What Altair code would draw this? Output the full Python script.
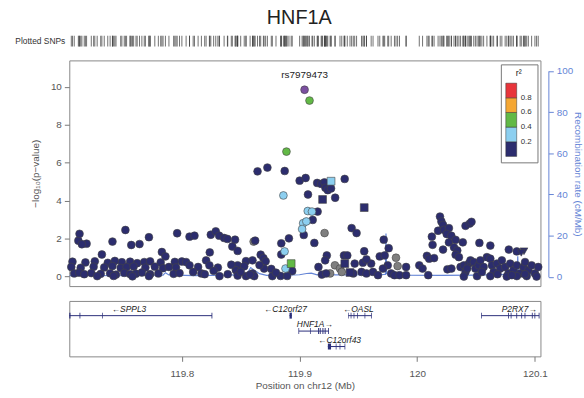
import altair as alt
import pandas as pd

# ---------------- SNP data (position Mb, -log10 p) ----------------
navy_pos = [
    119.712, 119.713, 119.719, 119.715, 119.732, 119.741, 119.752, 119.757, 119.764, 119.772, 119.783, 119.786, 119.796,
    119.707, 119.718, 119.726, 119.737, 119.743, 119.749, 119.756, 119.762, 119.768, 119.773, 119.782, 119.794, 119.800,
    119.706, 119.714, 119.725, 119.734, 119.741, 119.748, 119.753, 119.759, 119.769, 119.777, 119.784, 119.789, 119.795,
    119.7085, 119.7127, 119.717, 119.723, 119.731, 119.739, 119.744, 119.751, 119.756, 119.761, 119.766, 119.773, 119.780, 119.793, 119.798,
    119.728, 119.742, 119.758, 119.772,
    119.8065, 119.8107, 119.8246, 119.8288, 119.8317, 119.8359, 119.8387, 119.8452, 119.8429, 119.8474, 119.8623, 119.8237,
    119.867, 119.8693, 119.8712, 119.8643, 119.8727, 119.8874, 119.8845, 119.891, 119.8845, 119.8938, 119.8839, 119.8895,
    119.8206, 119.8234, 119.8306, 119.8545, 119.8601, 119.8474, 119.853, 119.8699, 119.846, 119.8036, 119.8065, 119.8138,
    119.8096, 119.8166, 119.8194, 119.8320, 119.8474, 119.8545, 119.8601, 119.8615, 119.8769,
    119.8270, 119.8390, 119.8420, 119.8500, 119.8580, 119.8660, 119.8760, 119.8800,
    119.9001, 119.9052, 119.915, 119.9184, 119.9212, 119.922, 119.924, 119.9268, 119.9384, 119.9072, 119.9303, 119.9154,
    119.9112, 119.9036, 119.9443, 119.9485, 119.9126, 119.9716, 119.9758, 119.955, 119.9682, 119.9724, 119.9232, 119.9218,
    119.9378, 119.9406, 119.9161, 119.9469, 119.9539, 119.9609, 119.975, 119.9906, 119.9457, 119.919, 119.9226, 119.9527,
    119.9569, 119.9625, 119.9667, 119.9709, 119.9779, 119.9807, 119.985, 119.9906, 119.9569,
    120.0194, 120.0206, 120.0220, 120.0178, 120.0228, 120.0270, 120.0251, 120.0290, 120.0125, 120.0131, 120.0220, 120.0270,
    120.0327, 120.0313, 120.0341, 120.0388, 120.0411, 120.0447, 120.0462, 120.0529, 120.0622, 120.0779, 120.0847, 120.0083,
    120.0102, 120.0144, 120.0327, 120.0355, 120.0018, 120.0046, 120.0094, 120.0257, 120.0291,
    120.0369, 120.0397, 120.0411, 120.0439, 120.0453, 120.0481, 120.0495, 120.0523, 120.0537, 120.0565, 120.0593, 120.0622,
    120.0636, 120.0650, 120.0678, 120.0706, 120.0720, 120.0748, 120.0776, 120.0791, 120.0818, 120.0847, 120.0875, 120.0903,
    120.0917, 120.0945, 120.0973, 120.1001, 120.1029, 120.0397, 120.0509, 120.0622, 120.0762, 120.0847, 120.0931, 120.1015,
    120.0425, 120.0550, 120.0683, 120.0805, 120.0917,
]
navy_logp = [
    1.89, 2.25, 1.73, 1.70, 1.16, 1.84, 2.45, 1.66, 1.71, 2.07, 1.29, 1.06, 2.28,
    0.78, 0.74, 0.80, 0.72, 0.82, 0.75, 0.78, 0.70, 0.76, 0.80, 0.74, 0.77, 0.79,
    0.50, 0.46, 0.52, 0.48, 0.55, 0.45, 0.50, 0.53, 0.47, 0.52, 0.44, 0.50, 0.48,
    0.16, 0.20, 0.12, 0.18, 0.14, 0.17, 0.10, 0.19, 0.13, 0.15, 0.21, 0.12, 0.16, 0.14, 0.18,
    0.02, 0.03, 0.01, 0.02,
    2.10, 2.15, 2.20, 2.38, 2.15, 2.03, 1.98, 1.94, 1.58, 1.35, 1.89, 1.27,
    1.15, 0.97, 0.80, 5.54, 5.74, 5.56, 1.75, 2.01, 1.16, 0.29, 0.03, 0.03,
    0.85, 0.59, 0.47, 0.81, 0.85, 0.59, 0.54, 0.42, 0.33, 0.76, 0.59, 0.50,
    0.24, 0.16, 0.12, 0.02, 0.05, 0.02, 0.16, 0.02, 0.02,
    0.30, 0.12, 0.62, 0.25, 0.10, 0.60, 0.40, 0.20,
    5.05, 5.19, 4.93, 4.88, 4.96, 4.67, 4.55, 4.64, 5.14, 4.32, 4.15, 3.42,
    2.98, 2.19, 2.55, 2.29, 1.77, 1.94, 1.49, 1.33, 1.06, 1.11, 1.11, 0.85,
    1.11, 1.11, 0.50, 0.68, 0.73, 0.68, 0.59, 0.50, 0.16, 0.10, 0.16, 0.24,
    0.16, 0.24, 0.07, 0.42, 0.16, 0.07, 0.07, 0.07, 0.90,
    3.16, 2.90, 2.72, 2.41, 2.46, 2.55, 2.24, 2.15, 2.10, 1.67, 1.42, 1.80,
    1.93, 1.54, 1.37, 1.80, 2.67, 2.79, 2.88, 1.77, 1.63, 1.42, 1.32, 1.09,
    0.94, 0.97, 1.15, 1.02, 0.59, 0.42, 0.07, 0.38, 0.42,
    0.50, 0.59, 0.24, 0.68, 0.85, 0.76, 0.42, 0.59, 0.85, 0.50, 1.02, 0.94,
    0.59, 0.24, 0.68, 0.42, 0.85, 0.50, 0.16, 0.68, 0.33, 0.59, 0.16, 0.50,
    0.76, 0.33, 0.59, 0.16, 0.50, 0.00, 0.02, 0.02, 0.00, 0.02, 0.02, 0.00,
    0.42, 0.24, 0.12, 0.07, 0.12,
]
navy_sq_pos = [119.9196, 119.955, 119.9385, 119.9429]
navy_sq_logp = [4.06, 3.63, 0.68, 0.21]
navy_tri_pos = [120.0908, 120.0885]
navy_tri_logp = [1.33, 1.25]

lblue_pos = [119.8863, 119.8873, 119.8881, 119.9031, 119.9022, 119.9058, 119.907, 119.9106]
lblue_logp = [4.27, 1.32, 0.42, 2.81, 2.50, 2.90, 3.45, 3.42]
lblue_sq_pos = [119.9268]
lblue_sq_logp = [5.02]

green_pos = [119.8889, 119.9085]
green_logp = [6.58, 9.27]
green_sq_pos = [119.8929]
green_sq_logp = [0.68]

gray_pos = [119.861, 119.846, 119.9213, 119.9301, 119.9344, 119.9359, 119.926, 119.9834, 119.982]
gray_logp = [1.84, 0.38, 2.29, 0.59, 0.42, 0.24, 0.16, 0.55, 0.99]

index_snp = ["rs7979473"]
index_pos = [119.9043]
index_logp = [9.84]

# r2 bin midpoint for each colour class
r2_navy, r2_lblue, r2_green = 0.1, 0.3, 0.5

strip_label = ["Plotted SNPs"]

# ---------------- recombination rate ----------------
recomb_pos = [119.7043, 119.72, 119.74, 119.765, 119.784, 119.786, 119.789, 119.81, 119.84, 119.855, 119.8585,
              119.862, 119.866, 119.872, 119.89, 119.9, 119.906, 119.91, 119.915, 119.925, 119.93, 119.96,
              119.973, 119.9735, 119.974, 119.99, 120.02, 120.05, 120.085, 120.0855, 120.086, 120.1048]
recomb_rate = [0.6, 0.8, 0.5, 0.7, 0.8, 2.0, 0.9, 0.6, 0.8, 1.2, 4.5,
               3.0, 1.5, 0.7, 0.8, 1.0, 1.6, 1.8, 0.9, 1.5, 0.9, 1.0,
               1.2, 21.0, 1.5, 0.8, 0.7, 0.8, 1.2, 10.0, 1.5, 1.0]

# ---------------- genes ----------------
gene_name = ["SPPL3", "C12orf27", "OASL", "P2RX7", "HNF1A", "C12orf43"]
gene_start = [119.7043, 119.8915, 119.9415, 120.0546, 119.8994, 119.9241]
gene_end = [119.8256, 119.8935, 119.9612, 120.1037, 119.9247, 119.9386]
gene_row = [1, 1, 1, 1, 2, 3]
gene_strand = ["-", "-", "-", "+", "+", "-"]
gene_label_pos = [119.755, 119.888, 119.950, 120.0868, 119.913, 119.934]

exon_gene = ["SPPL3"] * 4 + ["C12orf27"] + ["OASL"] * 6 + ["P2RX7"] * 9 + ["HNF1A"] * 7 + ["C12orf43"] * 4
exon_start = [119.7043, 119.7130, 119.7321, 119.8252,
              119.8915,
              119.9413, 119.9435, 119.9460, 119.9491, 119.9553, 119.9608,
              120.0543, 120.0773, 120.0795, 120.0843, 120.0885, 120.0913, 120.0975, 120.0997, 120.1033,
              119.8991, 119.9089, 119.9158, 119.9172, 119.9195, 119.9214, 119.9243,
              119.9241, 119.9308, 119.9341, 119.9383]
exon_end = [119.7053, 119.7137, 119.7327, 119.8259,
            119.8935,
            119.9418, 119.9441, 119.9466, 119.9497, 119.9559, 119.9614,
            120.0549, 120.0780, 120.0802, 120.0850, 120.0892, 120.0920, 120.0982, 120.1004, 120.1040,
            119.8997, 119.9095, 119.9166, 119.9180, 119.9203, 119.9222, 119.9250,
            119.9268, 119.9314, 119.9347, 119.9389]

# ---------------- build tables ----------------
def group(pos, logp, r2, shape):
    return pd.DataFrame({"pos": pos, "logp": logp, "r2": [r2] * len(pos), "shape": [shape] * len(pos)})

ld = pd.concat([
    group(navy_pos, navy_logp, r2_navy, "circle"),
    group(navy_sq_pos, navy_sq_logp, r2_navy, "square"),
    group(navy_tri_pos, navy_tri_logp, r2_navy, "triangle-down"),
    group(lblue_pos, lblue_logp, r2_lblue, "circle"),
    group(lblue_sq_pos, lblue_sq_logp, r2_lblue, "square"),
    group(green_pos, green_logp, r2_green, "circle"),
    group(green_sq_pos, green_sq_logp, r2_green, "square"),
], ignore_index=True)
ld["order"] = ld["r2"]
gray = pd.DataFrame({"pos": gray_pos, "logp": gray_logp})
idx = pd.DataFrame({"pos": index_pos, "logp": index_logp, "name": index_snp})
all_pos = pd.DataFrame({"pos": list(ld["pos"]) + gray_pos + index_pos})
rec = pd.DataFrame({"pos": recomb_pos, "rate": recomb_rate})
genes = pd.DataFrame({"name": gene_name, "start": gene_start, "end": gene_end, "row": gene_row,
                      "strand": gene_strand, "lpos": gene_label_pos})
genes["label"] = [("\u2190" + n) if s == "-" else (n + "\u2192") for n, s in zip(gene_name, gene_strand)]
ex = pd.DataFrame({"gene": exon_gene, "start": exon_start, "end": exon_end})
ex = ex.merge(genes[["name", "row"]], left_on="gene", right_on="name")

# ---------------- styling ----------------
FONT = "Liberation Sans"
NAVY = "#2c2d6e"
LBLUE = "#8ccff0"
GREEN = "#62b946"
ORANGE = "#f5a733"
RED = "#e8353b"
GRAYC = "#7f7f7f"
PURPLE = "#7b4fa0"
RECOMB = "#6585d6"
AXIS_GRAY = "#555555"
XDOM = [119.7043, 120.1048]
W = 476
H_MAIN = 228

xs = alt.Scale(domain=XDOM, nice=False, zero=False)
ys = alt.Scale(domain=[-0.505, 11.385], nice=False, zero=False)

# strip of plotted SNP positions
strip_ticks = alt.Chart(all_pos).mark_tick(color="#333333", thickness=1, size=11).encode(
    x=alt.X("pos:Q", scale=xs, axis=None)
)
strip_text = alt.Chart(pd.DataFrame({"t": strip_label})).mark_text(
    align="right", baseline="middle", fontSize=8.5, color="#333333", font=FONT, dx=-4
).encode(x=alt.value(0), y=alt.value(5.5), text="t:N")
strip = alt.layer(strip_ticks, strip_text).properties(width=W, height=11)

recomb_line = alt.Chart(rec).mark_line(color=RECOMB, strokeWidth=1.2, clip=True).encode(
    x=alt.X("pos:Q", scale=xs, axis=None),
    y=alt.Y("rate:Q", scale=alt.Scale(domain=[0, 100], range=[218.6, 10.6], nice=False),
            axis=alt.Axis(orient="right", values=[0, 20, 40, 60, 80, 100], title="Recombination rate (cM/Mb)",
                          titleAngle=90, offset=8, domainColor=RECOMB, tickColor=RECOMB, labelColor=RECOMB,
                          titleColor=RECOMB, tickSize=5, labelFontSize=10, titleFontSize=10,
                          titleFontWeight="normal", grid=False, titlePadding=0, labelPadding=3))
)

gray_pts = alt.Chart(gray).mark_point(filled=True, shape="circle", size=62, color=GRAYC,
                                       stroke="#444444", strokeWidth=0.6, opacity=1).encode(
    x=alt.X("pos:Q", scale=xs, axis=None),
    y=alt.Y("logp:Q", scale=ys,
            axis=alt.Axis(orient="left", values=[0, 2, 4, 6, 8, 10], title="\u2212log\u2081\u2080(p\u2212value)",
                          domain=False, tickColor="#777777", labelColor=AXIS_GRAY, titleColor=AXIS_GRAY,
                          tickSize=5, labelFontSize=10, titleFontSize=10, titleFontWeight="normal",
                          grid=False, titlePadding=10, labelPadding=3))
)

ld_pts = alt.Chart(ld).mark_point(filled=True, size=62, stroke="#444444", strokeWidth=0.6, opacity=1).encode(
    x=alt.X("pos:Q", scale=xs, axis=None),
    y=alt.Y("logp:Q", scale=ys, axis=None),
    color=alt.Color("r2:Q", scale=alt.Scale(type="quantize", domain=[0, 1], nice=False,
                                              range=[NAVY, LBLUE, GREEN, ORANGE, RED]),
                    legend=alt.Legend(type="gradient", orient="none", legendX=436, legendY=29, direction="vertical",
                                      gradientLength=74, gradientThickness=11, title="r\u00b2", format=".1f",
                                      titleFontSize=9, titleFontWeight="normal", titleColor="#222222",
                                      labelFontSize=8, labelColor="#333333", padding=5,
                                      strokeColor="#777777", fillColor="white",
                                      gradientStrokeColor="#333333",
                                      gradientStrokeWidth=0.5, titleAnchor="middle", labelOffset=4)),
    shape=alt.Shape("shape:N", scale=alt.Scale(domain=["circle", "square", "triangle-down"],
                                                 range=["circle", "square", "triangle-down"]), legend=None),
    order=alt.Order("order:Q"),
)

idx_pt = alt.Chart(idx).mark_point(filled=True, shape="circle", size=62, color=PURPLE,
                                    stroke="#444444", strokeWidth=0.6, opacity=1).encode(
    x=alt.X("pos:Q", scale=xs, axis=None), y=alt.Y("logp:Q", scale=ys, axis=None)
)
idx_txt = alt.Chart(idx).mark_text(dy=-15, fontSize=10, color="#222222", font=FONT).encode(
    x=alt.X("pos:Q", scale=xs, axis=None), y=alt.Y("logp:Q", scale=ys, axis=None), text="name:N"
)

main = alt.layer(recomb_line, gray_pts, ld_pts, idx_pt, idx_txt).resolve_scale(y="independent").properties(
    width=W, height=H_MAIN, view=alt.ViewBackground(stroke="#888888", strokeWidth=1)
)

# gene panel
gys = alt.Scale(domain=[0.368, 3.316], reverse=True, nice=False, zero=False)
xaxis = alt.Axis(values=[119.8, 119.9, 120.0, 120.1], format="~g", title="Position on chr12 (Mb)",
                 domain=False, tickColor="#777777", labelColor=AXIS_GRAY, titleColor=AXIS_GRAY, tickSize=5,
                 labelFontSize=10, titleFontSize=10, titleFontWeight="normal", grid=False,
                 labelPadding=7, titlePadding=2)
gene_lines = alt.Chart(genes).mark_rule(color="#2b2f7a", strokeWidth=1).encode(
    x=alt.X("start:Q", scale=xs, axis=xaxis), x2="end:Q",
    y=alt.Y("row:Q", scale=gys, axis=None)
)
exons = alt.Chart(ex).mark_bar(color="#2b2f7a", size=6).encode(
    x=alt.X("start:Q", scale=xs), x2="end:Q", y=alt.Y("row:Q", scale=gys, axis=None)
)
gene_labels = alt.Chart(genes).mark_text(dy=-7, fontSize=8.5, fontStyle="italic", color="#222222", font=FONT).encode(
    x=alt.X("lpos:Q", scale=xs), y=alt.Y("row:Q", scale=gys, axis=None), text="label:N"
)
gene_panel = alt.layer(gene_lines, exons, gene_labels).properties(
    width=W, height=56, view=alt.ViewBackground(stroke="#888888", strokeWidth=1)
)

chart = alt.vconcat(strip, main, gene_panel, spacing=13).properties(
    title=alt.TitleParams("HNF1A", fontSize=20, fontWeight="normal", color="#222222", anchor="middle", offset=8),
    padding={"left": 15, "top": 6, "right": 0, "bottom": 2},
).configure(font=FONT).configure_view(stroke=None)

chart.save("out.html", embed_options={"renderer": "svg", "actions": False})
